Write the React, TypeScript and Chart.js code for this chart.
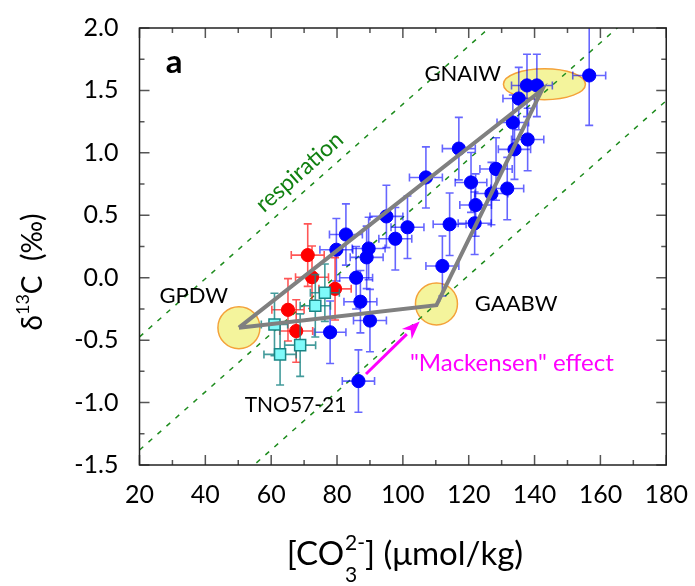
import React, { useEffect, useRef } from "react";
import { Chart, registerables } from "chart.js";
Chart.register(...registerables);

const FONT = "Lato, 'Open Sans', 'DejaVu Sans', sans-serif";

// Axis ticks
const xTickValues = [20, 40, 60, 80, 100, 120, 140, 160, 180];
const yTickValues = [-1.5, -1.0, -0.5, 0.0, 0.5, 1.0, 1.5, 2.0];
const xMin = 20, xMax = 180, yMin = -1.5, yMax = 2.0;

// Blue core-top data
const blueX = [156.6, 137.7, 140.7, 135.2, 133.4, 137.9, 133.9, 117.0, 107.0, 128.3, 120.7, 131.7, 126.9, 122.1, 114.2, 121.8, 101.4, 95.0, 97.7, 112.0, 82.7, 79.8, 89.6, 89.0, 85.8, 87.1, 90.0, 77.9, 86.5];
const blueY = [1.62, 1.54, 1.54, 1.435, 1.243, 1.107, 1.028, 1.034, 0.803, 0.871, 0.763, 0.714, 0.674, 0.582, 0.428, 0.436, 0.404, 0.491, 0.312, 0.094, 0.346, 0.224, 0.234, 0.163, 0.0, -0.192, -0.343, -0.437, -0.828];
const blueXErr = [5.0, 4.7, 4.7, 4.8, 4.8, 4.9, 4.9, 5.0, 5.0, 4.9, 4.8, 5.0, 5.0, 4.8, 5.0, 5.0, 5.0, 5.0, 5.0, 5.0, 5.0, 5.0, 5.0, 5.0, 5.0, 5.0, 5.0, 4.8, 4.9];
const blueYErr = [0.40, 0.25, 0.25, 0.25, 0.22, 0.25, 0.24, 0.25, 0.245, 0.25, 0.24, 0.25, 0.25, 0.25, 0.25, 0.25, 0.25, 0.25, 0.25, 0.24, 0.245, 0.25, 0.25, 0.25, 0.25, 0.25, 0.25, 0.25, 0.25];

// Red data
const redX = [71.1, 72.4, 79.4, 65.1, 67.6];
const redY = [0.181, 0.004, -0.089, -0.257, -0.427];
const redXErr = [5.0, 5.0, 4.9, 4.9, 5.0];
const redYErr = [0.25, 0.25, 0.25, 0.25, 0.25];

// Cyan (TNO57-21) data
const cyanX = [76.3, 73.4, 61.0, 68.8, 62.7];
const cyanY = [-0.12, -0.225, -0.375, -0.54, -0.614];
const cyanXErr = [4.4, 4.6, 4.0, 4.7, 4.9];
const cyanYErr = [0.23, 0.25, 0.25, 0.25, 0.245];

// End members (GPDW, GNAIW, GAABW)
const endMemberNames = ["GPDW", "GNAIW", "GAABW"];
const vertexX = [50.2, 142.3, 110.2];
const vertexY = [-0.40, 1.506, -0.22];
const triangleOrder = [0, 1, 2, 0];
const endMemberCenterX = [50.2, 143.0, 110.2];
const endMemberCenterY = [-0.40, 1.55, -0.21];

// Respiration lines (dashed)
const respirationX = [20, 180];
const respUpperY = [-0.474, 3.254];
const respMiddleY = [-1.38, 2.348];
const respLowerY = [-2.31, 1.418];

const pts = (xs: number[], ys: number[]) => xs.map((x, i) => ({ x, y: ys[i] }));

const decorPlugin = {
  id: "decor",
  beforeDatasetsDraw(chart: any) {
    const { ctx, chartArea: a, scales } = chart;
    const xs = scales.x, ys = scales.y;
    ctx.save();
    ctx.beginPath();
    ctx.rect(a.left, a.top, a.right - a.left, a.bottom - a.top);
    ctx.clip();
    ctx.fillStyle = "#f4f49c";
    ctx.strokeStyle = "#f4a23a";
    ctx.lineWidth = 1.5;
    endMemberNames.forEach((name, i) => {
      const cx = xs.getPixelForValue(endMemberCenterX[i]);
      const cy = ys.getPixelForValue(endMemberCenterY[i]);
      ctx.beginPath();
      if (name === "GNAIW") ctx.ellipse(cx, cy, 41, 15.5, 0, 0, Math.PI * 2);
      else ctx.arc(cx, cy, 21, 0, Math.PI * 2);
      ctx.fill();
      ctx.stroke();
    });
    ctx.restore();
  },
  beforeDatasetDraw(chart: any, args: any) {
    const ds: any = chart.data.datasets[args.index];
    if (!ds.errX) return;
    const { ctx, chartArea: a, scales } = chart;
    const xs = scales.x, ys = scales.y;
    ctx.save();
    ctx.beginPath();
    ctx.rect(a.left, a.top, a.right - a.left, a.bottom - a.top);
    ctx.clip();
    ctx.strokeStyle = ds.errColor;
    ctx.lineWidth = 1.6;
    const cap = 4;
    ds.data.forEach((p: any, i: number) => {
      const cx = xs.getPixelForValue(p.x), cy = ys.getPixelForValue(p.y);
      const x0 = xs.getPixelForValue(p.x - ds.errX[i]), x1 = xs.getPixelForValue(p.x + ds.errX[i]);
      const y0 = ys.getPixelForValue(p.y - ds.errY[i]), y1 = ys.getPixelForValue(p.y + ds.errY[i]);
      ctx.beginPath();
      ctx.moveTo(x0, cy); ctx.lineTo(x1, cy);
      ctx.moveTo(x0, cy - cap); ctx.lineTo(x0, cy + cap);
      ctx.moveTo(x1, cy - cap); ctx.lineTo(x1, cy + cap);
      ctx.moveTo(cx, y0); ctx.lineTo(cx, y1);
      ctx.moveTo(cx - cap, y0); ctx.lineTo(cx + cap, y0);
      ctx.moveTo(cx - cap, y1); ctx.lineTo(cx + cap, y1);
      ctx.stroke();
    });
    ctx.restore();
  },
  afterDatasetsDraw(chart: any) {
    const { ctx, chartArea: a, scales } = chart;
    const xs = scales.x, ys = scales.y;
    ctx.save();
    ctx.strokeStyle = "#555";
    ctx.lineWidth = 1.5;
    ctx.beginPath();
    for (let v = xMin; v <= xMax + 1e-9; v += 10) {
      const px = xs.getPixelForValue(v);
      const len = Math.round(v) % 20 === 0 ? 10 : 5;
      ctx.moveTo(px, a.bottom); ctx.lineTo(px, a.bottom - len);
      ctx.moveTo(px, a.top); ctx.lineTo(px, a.top + len);
    }
    for (let k = 0; k <= 14; k++) {
      const v = yMin + k * 0.25;
      const py = ys.getPixelForValue(v);
      const len = k % 2 === 0 ? 10 : 5;
      ctx.moveTo(a.left, py); ctx.lineTo(a.left + len, py);
      ctx.moveTo(a.right, py); ctx.lineTo(a.right - len, py);
    }
    ctx.stroke();
    ctx.strokeStyle = "#222";
    ctx.lineWidth = 1.5;
    ctx.strokeRect(a.left, a.top, a.right - a.left, a.bottom - a.top);
    ctx.restore();
  },
  afterDraw(chart: any) {
    const { ctx, scales } = chart;
    const xs = scales.x, ys = scales.y;
    const X = (v: number) => xs.getPixelForValue(v);
    const Y = (v: number) => ys.getPixelForValue(v);
    ctx.save();
    ctx.textBaseline = "alphabetic";

    // panel letter
    ctx.fillStyle = "#000";
    ctx.font = `bold 33px ${FONT}`;
    ctx.textAlign = "left";
    ctx.fillText("a", X(28.0), Y(1.64));

    // end member labels
    ctx.font = `22px ${FONT}`;
    ctx.textAlign = "center";
    ctx.fillText("GNAIW", X(118.2), Y(1.575));
    ctx.fillText("GPDW", X(36.5), Y(-0.2));
    ctx.fillText("GAABW", X(134.4), Y(-0.266));
    ctx.font = `21px ${FONT}`;
    ctx.fillText("TNO57-21", X(67.4), Y(-1.072));

    // Mackensen effect
    ctx.fillStyle = "#ff00ff";
    ctx.font = `24px ${FONT}`;
    ctx.fillText("\"Mackensen\" effect", X(133.1), Y(-0.75));
    // arrow
    const ax0 = X(88.8), ay0 = Y(-0.771), ax1 = X(105.1), ay1 = Y(-0.351);
    const ang = Math.atan2(ay1 - ay0, ax1 - ax0);
    const hl = 18, hw = 7;
    const bx = ax1 - hl * Math.cos(ang), by = ay1 - hl * Math.sin(ang);
    ctx.strokeStyle = "#ff00ff";
    ctx.lineWidth = 3;
    ctx.beginPath();
    ctx.moveTo(ax0, ay0);
    ctx.lineTo(bx, by);
    ctx.stroke();
    ctx.beginPath();
    ctx.moveTo(ax1, ay1);
    ctx.lineTo(bx + hw * Math.sin(ang), by - hw * Math.cos(ang));
    ctx.lineTo(ax1 - hl * 0.7 * Math.cos(ang), ay1 - hl * 0.7 * Math.sin(ang));
    ctx.lineTo(bx - hw * Math.sin(ang), by + hw * Math.cos(ang));
    ctx.closePath();
    ctx.fill();

    // respiration label
    ctx.save();
    ctx.translate(X(68.6), Y(0.847));
    ctx.rotate(-Math.atan2(Y(0) - Y(0.0233), 1 * (X(1) - X(0))));
    ctx.fillStyle = "#118011";
    ctx.font = `23px ${FONT}`;
    ctx.textAlign = "center";
    ctx.textBaseline = "middle";
    ctx.fillText("respiration", 0, 0);
    ctx.restore();

    // x axis title
    ctx.fillStyle = "#000";
    ctx.textAlign = "left";
    const big = `33px ${FONT}`, small = `21px ${FONT}`;
    ctx.font = big;
    const wA = ctx.measureText("[CO").width;
    const wC = ctx.measureText("] (\u03bcmol/kg)").width;
    ctx.font = small;
    const wB = Math.max(ctx.measureText("3").width, ctx.measureText("2-").width) + 1;
    const total = wA + wB + wC;
    let sx = 405 - total / 2;
    const base = 565;
    ctx.font = big;
    ctx.fillText("[CO", sx, base);
    sx += wA;
    ctx.font = small;
    ctx.fillText("2-", sx + 1, base - 15);
    ctx.fillText("3", sx + 1, base + 17);
    sx += wB;
    ctx.font = big;
    ctx.fillText("] (\u03bcmol/kg)", sx, base);

    // y axis title
    ctx.save();
    ctx.translate(42, 272);
    ctx.rotate(-Math.PI / 2);
    const yb = `28px ${FONT}`, ys2 = `18px ${FONT}`;
    ctx.font = yb;
    const w1 = ctx.measureText("\u03b4").width;
    const w3 = ctx.measureText("C  (\u2030)").width;
    ctx.font = ys2;
    const w2 = ctx.measureText("13").width;
    let tx = -(w1 + w2 + w3) / 2;
    ctx.font = yb;
    ctx.fillText("\u03b4", tx, 0);
    tx += w1;
    ctx.font = ys2;
    ctx.fillText("13", tx, -13);
    tx += w2;
    ctx.font = yb;
    ctx.fillText("C  (\u2030)", tx, 0);
    ctx.restore();

    ctx.restore();
  },
};

export default function App() {
  const ref = useRef<HTMLCanvasElement>(null);
  useEffect(() => {
    const canvas = ref.current!;
    const lineDs = (ys: number[]) => ({
      data: pts(respirationX, ys),
      showLine: true,
      borderColor: "#1e8c1e",
      borderWidth: 1.5,
      borderDash: [5, 7],
      pointRadius: 0,
      fill: false,
      order: 5,
    });
    const chart = new Chart(canvas, {
      type: "scatter",
      data: {
        datasets: [
          {
            label: "triangle",
            data: triangleOrder.map((k) => ({ x: vertexX[k], y: vertexY[k] })),
            showLine: true,
            borderColor: "#808080",
            borderWidth: 4,
            pointRadius: 0,
            fill: false,
            tension: 0,
            order: 0,
          } as any,
          {
            label: "TNO57-21",
            data: pts(cyanX, cyanY),
            errX: cyanXErr,
            errY: cyanYErr,
            errColor: "rgba(20,130,130,0.8)",
            pointStyle: "rect",
            pointRadius: 7.8,
            backgroundColor: "#7ffafa",
            borderColor: "#1a8585",
            borderWidth: 1.5,
            order: 1,
          } as any,
          {
            label: "red",
            data: pts(redX, redY),
            errX: redXErr,
            errY: redYErr,
            errColor: "rgba(255,30,30,0.75)",
            pointRadius: 6.6,
            backgroundColor: "#ff0000",
            borderColor: "#ff0000",
            borderWidth: 1,
            order: 2,
          } as any,
          {
            label: "blue",
            data: pts(blueX, blueY),
            errX: blueXErr,
            errY: blueYErr,
            errColor: "rgba(0,0,255,0.6)",
            pointRadius: 6.6,
            backgroundColor: "#0000ff",
            borderColor: "#0000ff",
            borderWidth: 1,
            order: 3,
          } as any,
          lineDs(respUpperY) as any,
          lineDs(respMiddleY) as any,
          lineDs(respLowerY) as any,
        ],
      },
      options: {
        animation: false,
        responsive: false,
        events: [],
        layout: { padding: { top: 20.5, right: 27, left: 0, bottom: 0 } },
        plugins: { legend: { display: false }, tooltip: { enabled: false } },
        scales: {
          x: {
            type: "linear",
            min: xMin,
            max: xMax,
            grid: { display: false },
            border: { display: false },
            afterFit: (s: any) => { s.height = 121; },
            afterBuildTicks: (s: any) => { s.ticks = xTickValues.map((v) => ({ value: v })); },
            ticks: { color: "#000", font: { family: FONT, size: 25 }, padding: 7, maxRotation: 0, autoSkip: false },
          },
          y: {
            type: "linear",
            min: yMin,
            max: yMax,
            grid: { display: false },
            border: { display: false },
            afterFit: (s: any) => { s.width = 139.5; },
            afterBuildTicks: (s: any) => { s.ticks = yTickValues.map((v) => ({ value: v })); },
            ticks: {
              color: "#000",
              font: { family: FONT, size: 25 },
              padding: 13,
              autoSkip: false,
              callback: (v: any) => Number(v).toFixed(1),
            },
          },
        },
      } as any,
      plugins: [decorPlugin],
    });
    return () => chart.destroy();
  }, []);
  return (
    <div style={{ position: "absolute", left: 0, top: 0, width: 695, height: 586, background: "#fff" }}>
      <canvas ref={ref} width={695} height={586} style={{ display: "block" }} />
    </div>
  );
}
